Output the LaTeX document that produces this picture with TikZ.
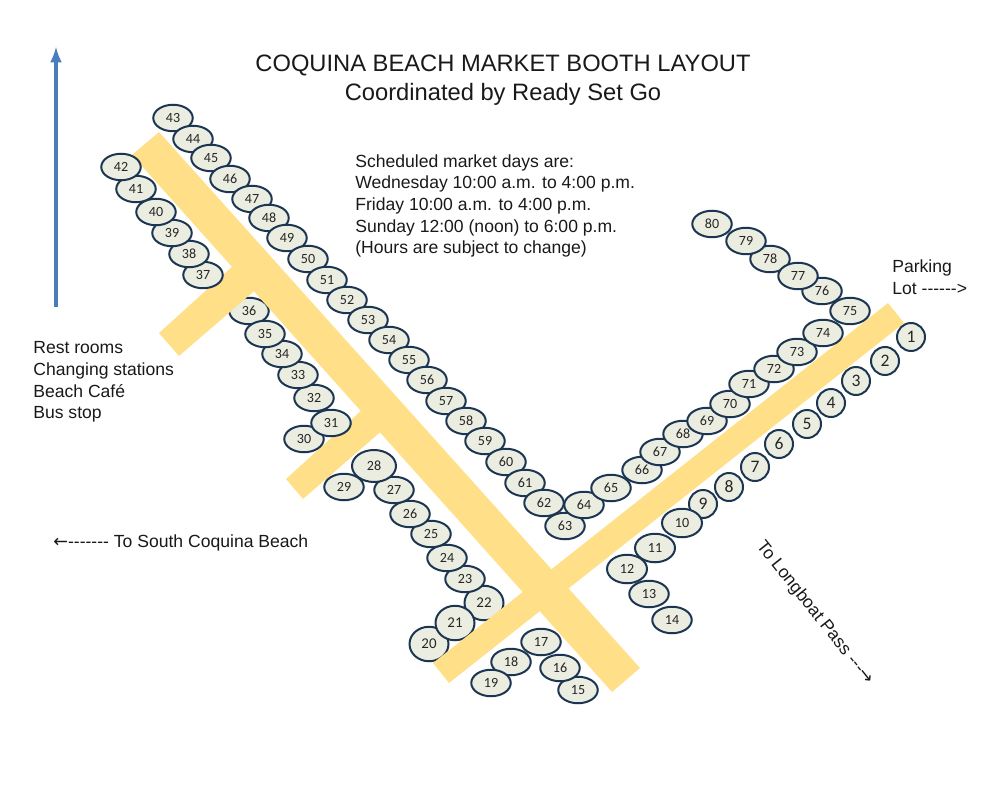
\documentclass[tikz,border=0pt]{standalone}
\usepackage{fontspec}
\setmainfont[Ligatures=TeXOff]{Liberation Sans}
\newfontfamily\boothfont{Carlito}
\newfontfamily\arrowfont{DejaVu Sans}
\usetikzlibrary{arrows,shapes.geometric}
\definecolor{roadcolor}{HTML}{FFDF88}
\definecolor{boothfill}{HTML}{EAEDDF}
\definecolor{boothline}{HTML}{1C3553}
\definecolor{arrowblue}{HTML}{4A7EBB}
\tikzset{
    road/.style={fill=roadcolor},
    booth/.style={shape=ellipse,draw=boothline,fill=boothfill,line width=0.04cm,inner sep=0pt,
        minimum width=0.79cm,minimum height=0.53cm,font=\boothfont\fontsize{8}{8}\selectfont,text=black!85},
    boothbig/.style={booth,minimum width=0.8cm,minimum height=0.57cm},
    boothtall/.style={booth,minimum width=0.78cm,minimum height=0.69cm,font=\boothfont\fontsize{8.5}{8.5}\selectfont},
    boothround/.style={booth,minimum width=0.56cm,minimum height=0.56cm,font=\boothfont\fontsize{10}{10}\selectfont},
    label/.style={align=left,anchor=west,inner sep=0pt,font=\fontsize{10}{12.3}\selectfont,text=black!90},
}
\begin{document}
\begin{tikzpicture}[x=0.02cm,y=-0.02cm]
    \useasboundingbox (0,0) rectangle (986,800);
    % booths that the roads cover
    \foreach \num/\x/\y in {22/484/603,20/429/644,21/455/623}
        \node[boothtall] (b\num) at (\x,\y) {\num};
    \node[booth] (b36) at (249,311) {36};
    % roads
    \fill[road] (159,132) -- (640,668) -- (612,692) -- (132,155) -- cycle;
    \fill[road] (888,303) -- (904,323) -- (449,683) -- (433,663) -- cycle;
    \fill[road] (159,333) -- (244,256) -- (267,280) -- (179,356) -- cycle;
    \fill[road] (286,479) -- (373,400) -- (392,422) -- (303,499) -- cycle;
    % booths
    \foreach \num/\x/\y in {1/911/337,2/885/361,3/856/381,4/831/403,5/807/424,
        6/779/444,7/755/467,8/729/487,9/703/504}
        \node[boothround] (b\num) at (\x,\y) {\num};
    \foreach \num/\x/\y in {10/682/523,11/655/548,12/627/569}
        \node[boothbig] (b\num) at (\x,\y) {\num};
    \foreach \num/\x/\y in {13/649/594,14/672/620,15/578/690,16/560/668,17/541/642,
        18/511/662,19/491/683,23/465/579,24/447/558,25/431/534,26/410/514,27/394/490,
        29/344/487,30/304/439,32/314/398,31/331/423,33/298/375,34/282/354,35/265/334,
        37/203/275,38/189/254,39/172/233,40/156/212,41/136/189,42/121/167,
        43/173/118,44/193/139,45/211/158,46/230/179,47/252/199,48/269/218,49/287/238,
        50/308/259,51/327/280,52/347/300,53/368/320,54/389/340,55/409/360,56/427/380,
        57/446/401,58/466/421,59/485/441,60/506/462,61/525/483,62/544/503,63/565/526,
        64/584/505,65/611/488,66/642/470,67/660/452,68/683/434,69/707/421,70/730/404,
        71/749/384,72/774/369,73/797/352,74/823/333,75/850/311,76/822/291,78/770/259,
        77/798/276,79/746/241,80/712/224}
        \node[booth] (b\num) at (\x,\y) {\num};
    \node[boothbig,minimum width=0.88cm,minimum height=0.64cm] (b28) at (374,466) {28};
    % texts
    \node[font=\fontsize{13.5}{16.6}\selectfont,align=center,text=black!90] (title) at (503,80)
        {COQUINA BEACH MARKET BOOTH LAYOUT\\Coordinated by Ready Set Go};
    \node[label] (schedule) at (355,206) {Scheduled market days are:\\
        Wednesday 10:00 a.m. to 4:00 p.m.\\Friday 10:00 a.m. to 4:00 p.m.\\
        Sunday 12:00 (noon) to 6:00 p.m.\\(Hours are subject to change)};
    \node[label] (parking) at (892,277) {Parking\\Lot ------>};
    \node[label] (restrooms) at (33,382) {Rest rooms\\Changing stations\\Beach Café\\Bus stop};
    \node[label] (south) at (53,543) {{\arrowfont ←}------- To South Coquina Beach};
    \node[label,anchor=center,rotate=-51.5] (longboat) at (815,613) {To Longboat Pass ---{\arrowfont →}};
    % north arrow
    \coordinate (arrowbase) at (56,307);
    \coordinate (arrowtip) at (56,47);
    \draw[-latex,arrowblue,line width=0.07cm] (arrowbase) -- (arrowtip);
\end{tikzpicture}
\end{document}
